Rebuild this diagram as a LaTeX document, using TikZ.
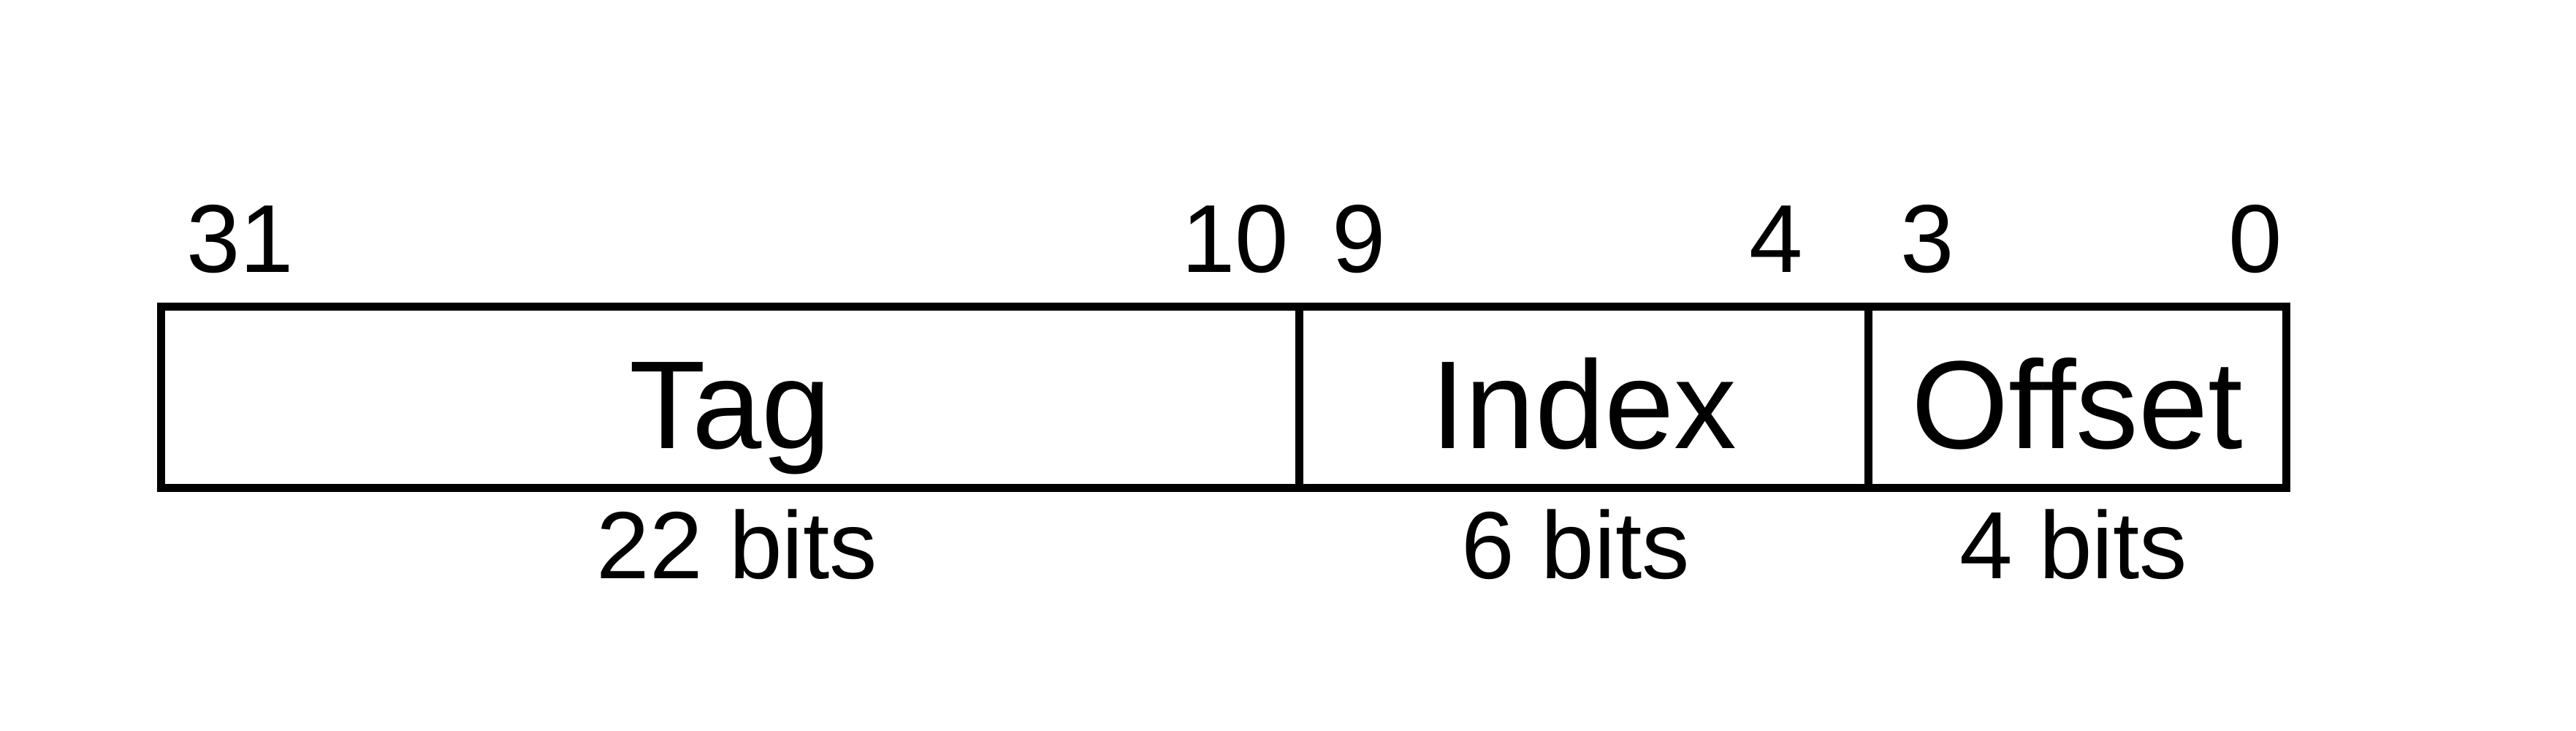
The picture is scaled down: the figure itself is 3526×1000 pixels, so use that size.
\documentclass[tikz,border=0pt]{standalone}
\usepackage{fontspec}
\setmainfont{Liberation Sans}
\usepackage{tikz}
\usetikzlibrary{positioning,calc}
\tikzset{
  field/.style  = {draw, line width=1.56pt, rectangle, outer sep=0pt, inner sep=0pt,
                   minimum height=1.245cm, text height=0.70cm, text depth=0pt,
                   font=\fontsize{24.4}{28}\selectfont},
  bitnum/.style = {inner sep=0pt, font=\fontsize{18.8}{22}\selectfont},
  bitlen/.style = {inner sep=0pt, anchor=base, font=\fontsize{18.6}{22}\selectfont},
}
\begin{document}
\begin{tikzpicture}[x=0.005cm,y=-0.005cm]
\useasboundingbox (0,0) rectangle (3526,1000);
\node[field,minimum width=7.795cm] (tag) at (999.5,543.5) {Tag};
\node[field,minimum width=3.9cm,right=0pt of tag] (index) {Index};
\node[field,minimum width=2.86cm,right=0pt of index] (offset) {Offset};
\node[bitnum,anchor=base west] (b31) at ([xshift=0.165cm,yshift=0.2325cm]tag.north west) {31};
\node[bitnum,anchor=base east] (b10) at ([xshift=-0.065cm,yshift=0.2325cm]tag.north east) {10};
\node[bitnum,anchor=base west] (b9) at ([xshift=0.22cm,yshift=0.2325cm]index.north west) {9};
\node[bitnum,anchor=base east] (b4) at ([xshift=-0.44cm,yshift=0.2325cm]index.north east) {4};
\node[bitnum,anchor=base west] (b3) at ([xshift=0.215cm,yshift=0.2325cm]offset.north west) {3};
\node[bitnum,anchor=base east] (b0) at ([xshift=-0.02cm,yshift=0.2325cm]offset.north east) {0};
\node[bitlen] (tagbits) at ([xshift=0.0475cm,yshift=-0.62cm]tag.south) {22 bits};
\node[bitlen] (indexbits) at ([xshift=-0.055cm,yshift=-0.62cm]index.south) {6 bits};
\node[bitlen] (offsetbits) at ([xshift=-0.025cm,yshift=-0.62cm]offset.south) {4 bits};
\end{tikzpicture}
\end{document}
